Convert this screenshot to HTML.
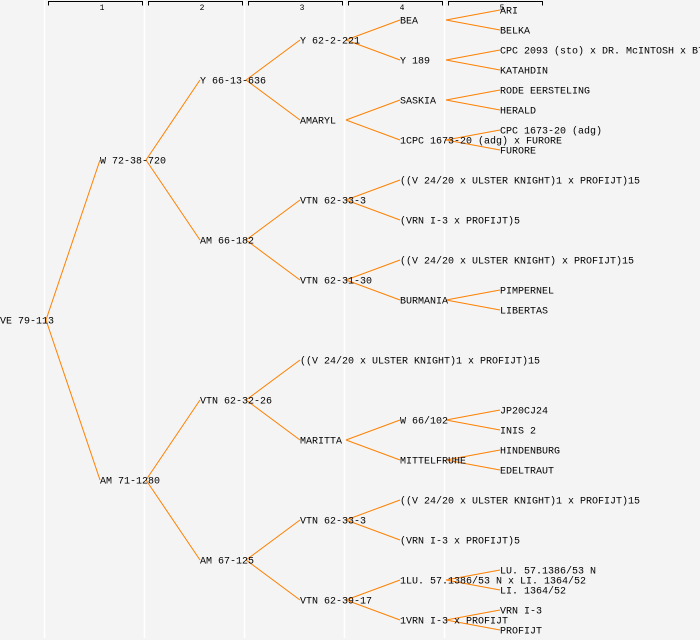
<!DOCTYPE html>
<html><head><meta charset="utf-8"><style>
html,body{margin:0;padding:0;background:#f4f4f4}
svg{display:block}
text{font-family:"Liberation Mono",monospace;font-size:10px;fill:#000}
</style></head><body>
<svg width="700" height="640" viewBox="0 0 700 640" xmlns="http://www.w3.org/2000/svg">
<rect width="700" height="640" fill="#f4f4f4"/>
<g stroke="#fff" stroke-width="1.5">
<line x1="44.5" y1="0" x2="44.5" y2="638"/><line x1="144.5" y1="0" x2="144.5" y2="638"/><line x1="244.5" y1="0" x2="244.5" y2="638"/><line x1="344.5" y1="0" x2="344.5" y2="638"/><line x1="444.5" y1="0" x2="444.5" y2="638"/>
</g>
<g stroke="#000" stroke-width="1" fill="none">
<path d="M48.5 5.5V1.5H142.5V5.5"/><path d="M148.5 5.5V1.5H242.5V5.5"/><path d="M248.5 5.5V1.5H342.5V5.5"/><path d="M348.5 5.5V1.5H442.5V5.5"/><path d="M448.5 5.5V1.5H542.5V5.5"/>
</g>
<g style="font-size:8px" text-anchor="middle">
<text x="102" y="10" style="font-size:8px">1</text><text x="202" y="10" style="font-size:8px">2</text><text x="302" y="10" style="font-size:8px">3</text><text x="402" y="10" style="font-size:8px">4</text><text x="502" y="10" style="font-size:8px">5</text>
</g>
<g stroke="#ff8000" stroke-width="1" fill="none">
<path d="M46 320L100 160M46 320L100 480"/>
<path d="M146 160L200 80M146 160L200 240M146 480L200 400M146 480L200 560"/>
<path d="M246 80L300 40M246 80L300 120M246 240L300 200M246 240L300 280M246 400L300 360M246 400L300 440M246 560L300 520M246 560L300 600"/>
<path d="M346 40L400 20M346 40L400 60M346 120L400 100M346 120L400 140M346 200L400 180M346 200L400 220M346 280L400 260M346 280L400 300M346 440L400 420M346 440L400 460M346 520L400 500M346 520L400 540M346 600L400 580M346 600L400 620"/>
<path d="M446 20L500 10M446 20L500 30M446 60L500 50M446 60L500 70M446 100L500 90M446 100L500 110M446 140L500 130M446 140L500 150M446 300L500 290M446 300L500 310M446 420L500 410M446 420L500 430M446 460L500 450M446 460L500 470M446 580L500 570M446 580L500 590M446 620L500 610M446 620L500 630"/>
</g>
<g dominant-baseline="central">
<text x="0" y="322">VE 79-113</text>
<text x="100" y="162">W 72-38-720</text>
<text x="100" y="482">AM 71-1280</text>
<text x="200" y="82">Y 66-13-636</text>
<text x="200" y="242">AM 66-182</text>
<text x="200" y="402">VTN 62-32-26</text>
<text x="200" y="562">AM 67-125</text>
<text x="300" y="42">Y 62-2-221</text>
<text x="300" y="122">AMARYL</text>
<text x="300" y="202">VTN 62-33-3</text>
<text x="300" y="282">VTN 62-31-30</text>
<text x="300" y="362">((V 24/20 x ULSTER KNIGHT)1 x PROFIJT)15</text>
<text x="300" y="442">MARITTA</text>
<text x="300" y="522">VTN 62-33-3</text>
<text x="300" y="602">VTN 62-39-17</text>
<text x="400" y="22">BEA</text>
<text x="400" y="62">Y 189</text>
<text x="400" y="102">SASKIA</text>
<text x="400" y="142">1CPC 1673-20 (adg) x FURORE</text>
<text x="400" y="182">((V 24/20 x ULSTER KNIGHT)1 x PROFIJT)15</text>
<text x="400" y="222">(VRN I-3 x PROFIJT)5</text>
<text x="400" y="262">((V 24/20 x ULSTER KNIGHT) x PROFIJT)15</text>
<text x="400" y="302">BURMANIA</text>
<text x="400" y="422">W 66/102</text>
<text x="400" y="462">MITTELFRUHE</text>
<text x="400" y="502">((V 24/20 x ULSTER KNIGHT)1 x PROFIJT)15</text>
<text x="400" y="542">(VRN I-3 x PROFIJT)5</text>
<text x="400" y="582">1LU. 57.1386/53 N x LI. 1364/52</text>
<text x="400" y="622">1VRN I-3 x PROFIJT</text>
<text x="500" y="12">ARI</text>
<text x="500" y="32">BELKA</text>
<text x="500" y="52">CPC 2093 (sto) x DR. McINTOSH x B7</text>
<text x="500" y="72">KATAHDIN</text>
<text x="500" y="92">RODE EERSTELING</text>
<text x="500" y="112">HERALD</text>
<text x="500" y="132">CPC 1673-20 (adg)</text>
<text x="500" y="152">FURORE</text>
<text x="500" y="292">PIMPERNEL</text>
<text x="500" y="312">LIBERTAS</text>
<text x="500" y="412">JP20CJ24</text>
<text x="500" y="432">INIS 2</text>
<text x="500" y="452">HINDENBURG</text>
<text x="500" y="472">EDELTRAUT</text>
<text x="500" y="572">LU. 57.1386/53 N</text>
<text x="500" y="592">LI. 1364/52</text>
<text x="500" y="612">VRN I-3</text>
<text x="500" y="632">PROFIJT</text>
</g>
</svg>
</body></html>
